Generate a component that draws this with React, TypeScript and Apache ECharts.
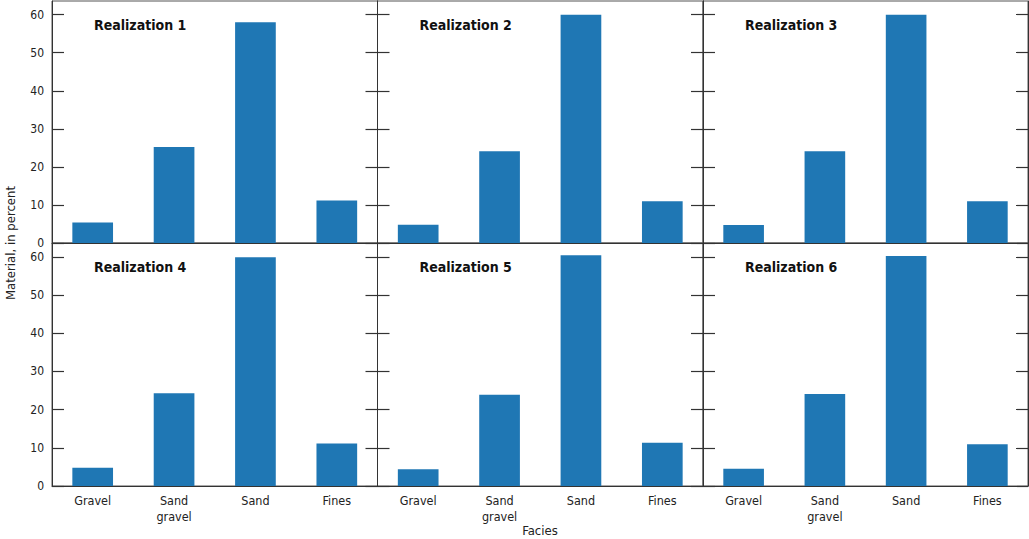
import React, { useEffect, useRef } from "react";
import * as echarts from "echarts";

const categories = ["Gravel", "Sand\ngravel", "Sand", "Fines"];
const realization1 = [5.4, 25.2, 58.0, 11.2];
const realization2 = [4.8, 24.1, 60.0, 11.0];
const realization3 = [4.7, 24.1, 60.0, 11.0];
const realization4 = [4.8, 24.3, 59.9, 11.1];
const realization5 = [4.4, 23.9, 60.4, 11.3];
const realization6 = [4.5, 24.1, 60.2, 10.9];
const panelTitles = [
  "Realization 1",
  "Realization 2",
  "Realization 3",
  "Realization 4",
  "Realization 5",
  "Realization 6",
];
const yTicks = [0, 10, 20, 30, 40, 50, 60];
const yAxisTitle = "Material, in percent";
const xAxisTitle = "Facies";

const FONT = '"Liberation Sans Narrow", "Arial Narrow", "DejaVu Sans Condensed", Roboto, sans-serif';

export default function App() {
  const ref = useRef<HTMLDivElement>(null);

  useEffect(() => {
    if (!ref.current) return;
    const chart = echarts.init(ref.current, undefined, { renderer: "svg" });
    const allData = [realization1, realization2, realization3, realization4, realization5, realization6];
    const colLefts = [52, 377.5, 703];
    const colWidths = [325.5, 325.5, 325];
    const rowTops = [1, 243];
    const rowHeights = [242, 243];
    const yMax = 63.6;

    const grids: any[] = [];
    const xAxes: any[] = [];
    const yAxes: any[] = [];
    const series: any[] = [];
    const titles: any[] = [];

    for (let i = 0; i < 6; i++) {
      const r = Math.floor(i / 3);
      const c = i % 3;
      grids.push({
        left: colLefts[c],
        top: rowTops[r],
        width: colWidths[c],
        height: rowHeights[r],
        show: true,
        borderColor: "#555",
        borderWidth: 1,
        containLabel: false,
      });
      xAxes.push({
        type: "category",
        gridIndex: i,
        data: categories,
        axisLine: { show: true, lineStyle: { color: "#333", width: 1 } },
        axisTick: { show: false },
        axisLabel: {
          show: r === 1,
          margin: 6,
          fontFamily: FONT,
          fontSize: 12.5,
          lineHeight: 16,
          color: "#222",
        },
        splitLine: { show: false },
      });
      const common = {
        type: "value",
        gridIndex: i,
        min: 0,
        max: yMax,
        splitLine: { show: false },
        axisLine: { show: true, lineStyle: { color: "#333", width: 1 } },
        axisTick: {
          show: true,
          inside: true,
          length: 12,
          customValues: yTicks,
          lineStyle: { color: "#333", width: 1.2 },
        },
      };
      yAxes.push({
        ...common,
        position: "left",
        axisLabel: {
          show: c === 0,
          customValues: yTicks,
          margin: 8,
          fontFamily: FONT,
          fontSize: 12,
          color: "#222",
        },
      });
      yAxes.push({
        ...common,
        position: "right",
        axisLabel: { show: false },
      });
      series.push({
        type: "bar",
        xAxisIndex: i,
        yAxisIndex: i * 2,
        data: allData[i],
        barWidth: "50%",
        itemStyle: { color: "#1f77b4" },
        silent: true,
      });
      titles.push({
        text: panelTitles[i],
        left: colLefts[c] + 42,
        top: rowTops[r] + 17,
        textStyle: {
          fontFamily: FONT,
          fontSize: 14,
          fontWeight: "bold",
          color: "#111",
        },
        padding: 0,
      });
    }

    chart.setOption({
      animation: false,
      backgroundColor: "#fff",
      title: titles,
      grid: grids,
      xAxis: xAxes,
      yAxis: yAxes,
      series,
      graphic: [
        {
          type: "text",
          x: 10,
          y: 243,
          rotation: Math.PI / 2,
          style: {
            text: yAxisTitle,
            fontFamily: FONT,
            fontSize: 13,
            fill: "#222",
            align: "center",
            verticalAlign: "middle",
          },
        },
        {
          type: "text",
          x: 540,
          y: 530,
          style: {
            text: xAxisTitle,
            fontFamily: FONT,
            fontSize: 13,
            fill: "#222",
            align: "center",
            verticalAlign: "middle",
          },
        },
      ],
    });
    return () => chart.dispose();
  }, []);

  return (
    <div
      ref={ref}
      style={{ position: "absolute", left: 0, top: 0, width: 1029, height: 539 }}
    />
  );
}
